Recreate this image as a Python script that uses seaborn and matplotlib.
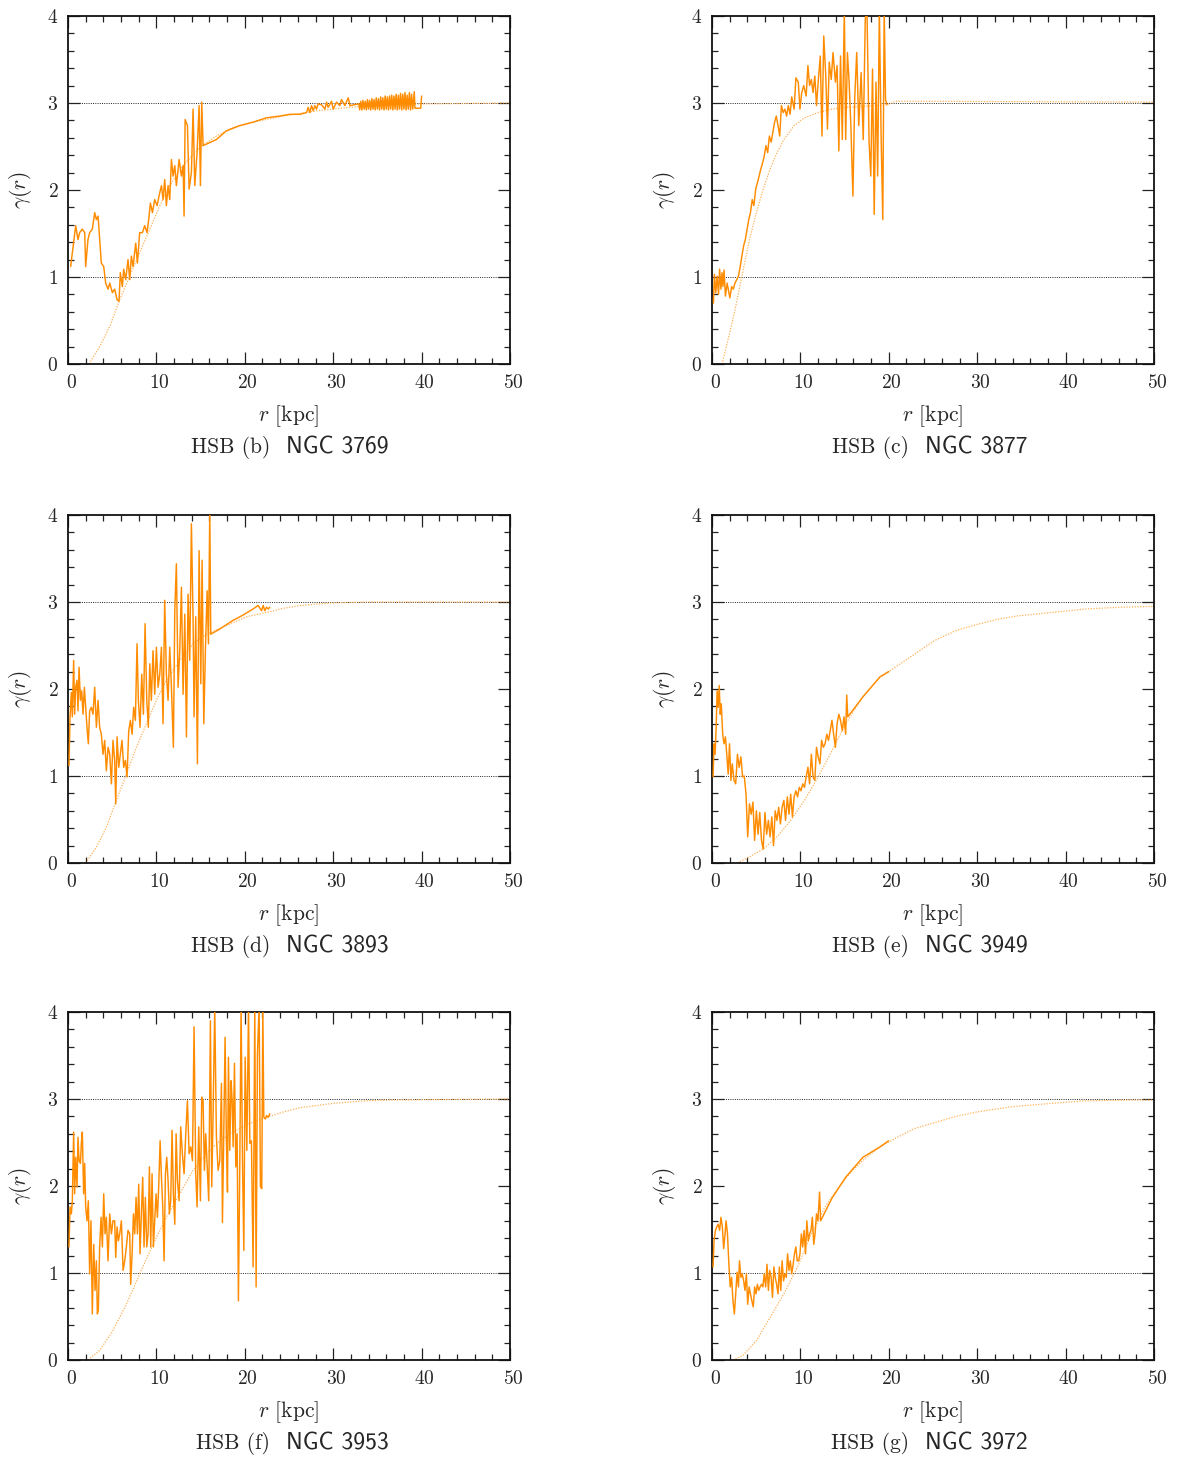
import numpy as np
import pandas as pd
import seaborn as sns
import matplotlib
matplotlib.use("Agg")
import matplotlib.pyplot as plt
from matplotlib.ticker import MultipleLocator
from matplotlib.transforms import ScaledTranslation

# ---------------- data ----------------
NAMES = ["NGC 3769", "NGC 3877", "NGC 3893", "NGC 3949", "NGC 3953", "NGC 3972"]
LETTERS = ["b", "c", "d", "e", "f", "g"]

# NGC 3769
r_b = [0.3, 0.87, 1.13, 1.32, 1.62, 1.89, 2.0, 2.26, 2.45, 2.75, 3.02, 3.21, 3.4, 3.58, 3.77, 4.04, 4.26, 4.53,
       4.72, 5.02, 5.28, 5.55, 5.77, 5.92, 6.15, 6.3, 6.53, 6.79, 6.98, 7.17, 7.36, 7.66, 7.85, 8.11, 8.42, 8.68,
       8.94, 9.13, 9.32, 9.55, 9.81, 10.08, 10.38, 10.57, 10.75, 10.94, 11.13, 11.32, 11.51, 11.7, 11.89, 12.08,
       12.26, 12.57, 12.83, 13.02, 13.13, 13.25, 13.51, 13.7, 13.96, 14.15, 14.34, 14.6, 14.83, 14.98, 15.13,
       15.28, 16.79, 17.92, 19.43, 20.94, 22.45, 23.96, 25.09, 26.23, 26.98, 27.17, 27.36, 27.55, 27.74, 27.92,
       28.11, 28.3, 28.68, 29.06, 29.25, 29.43, 29.81, 30.0, 30.38, 30.75, 30.94, 31.32, 31.7, 31.89, 32.9,
       33.0, 33.12, 33.25, 33.37, 33.5, 33.62, 33.75, 33.87, 34.0, 34.12, 34.25, 34.37, 34.5, 34.62, 34.75,
       34.87, 35.0, 35.12, 35.25, 35.37, 35.5, 35.62, 35.75, 35.87, 36.0, 36.12, 36.25, 36.37, 36.5, 36.62,
       36.75, 36.87, 37.0, 37.12, 37.25, 37.37, 37.5, 37.62, 37.75, 37.87, 38.0, 38.12, 38.25, 38.37, 38.5,
       38.62, 38.75, 38.87, 39.0, 39.17, 39.25, 39.9, 40.0]
g_b = [1.12, 1.59, 1.43, 1.51, 1.55, 1.51, 1.12, 1.43, 1.51, 1.55, 1.74, 1.66, 1.7, 1.43, 1.16, 1.12, 0.93, 0.86,
       0.93, 0.82, 0.86, 0.74, 0.72, 1.05, 0.89, 1.09, 0.97, 1.2, 0.97, 1.24, 1.12, 1.39, 1.16, 1.51, 1.51, 1.59,
       1.51, 1.66, 1.85, 1.74, 1.89, 1.82, 1.97, 2.05, 1.89, 2.12, 1.82, 2.05, 1.89, 2.35, 2.16, 2.28,
       2.05, 2.35, 2.16, 2.28, 1.7, 2.81, 2.74, 2.01, 2.2, 2.93, 2.05, 2.43, 2.97, 2.05, 3.01,
       2.51, 2.58, 2.68, 2.74, 2.78, 2.83, 2.85, 2.87, 2.87, 2.89, 2.95, 2.89, 2.97, 2.91, 2.97,
       2.93, 2.99, 2.98, 2.93, 3.01, 2.95, 3.02, 2.93, 3.01, 2.97, 3.04, 2.97, 3.06, 2.97, 2.99,
       2.92, 3.02, 2.92, 3.03, 2.93, 3.02, 2.92, 3.04, 2.93, 3.03, 2.92, 3.05, 2.93, 3.04, 2.92,
       3.06, 2.93, 3.05, 2.92, 3.07, 2.93, 3.06, 2.92, 3.08, 2.93, 3.07, 2.92, 3.08, 2.93, 3.09,
       2.92, 3.08, 2.93, 3.1, 2.92, 3.09, 2.93, 3.11, 2.92, 3.1, 2.93, 3.12, 2.92, 3.09, 2.93,
       3.12, 2.92, 3.1, 2.93, 3.13, 2.94, 2.94, 3.08]
rm_b = [2.38, 3.58, 4.72, 5.85, 6.98, 8.11, 9.25, 10.38, 11.51, 13.02, 14.91, 16.79, 18.68, 20.94, 24.34, 28.11,
        31.89, 35.66, 39.81, 41.32, 50.0]
gm_b = [0.0, 0.2, 0.43, 0.74, 1.01, 1.28, 1.55, 1.82, 2.05, 2.28, 2.49, 2.62, 2.72, 2.78, 2.85, 2.91,
        2.95, 2.98, 2.99, 2.99, 3.0]

# NGC 3877
r_c = [0.16, 0.27, 0.43, 0.58, 0.74, 0.86, 1.01, 1.13, 1.24, 1.36, 1.52, 1.71, 1.91, 2.02, 2.22, 2.41, 2.6, 2.8,
       2.99, 3.19, 3.38, 3.58, 3.77, 3.97, 4.16, 4.35, 4.55, 4.74, 4.94, 5.13, 5.33, 5.52, 5.72, 5.91, 6.1, 6.3,
       6.49, 6.69, 6.88, 7.08, 7.27, 7.47, 7.66, 7.85, 8.05, 8.24, 8.44, 8.63, 8.83, 9.02, 9.29, 9.49, 9.76,
       9.95, 10.15, 10.38, 10.65, 10.85, 11.04, 11.24, 11.43, 11.63, 11.82, 12.01, 12.25, 12.44, 12.64, 12.87,
       13.06, 13.26, 13.49, 13.69, 13.96, 14.15, 14.35, 14.54, 14.74, 14.97, 15.12, 15.32, 15.51, 15.71, 15.94,
       16.14, 16.37, 16.6, 16.87, 17.11, 17.34, 17.53, 17.77, 17.96, 18.16, 18.35, 18.55, 18.74, 18.93, 19.13,
       19.32, 19.48, 19.63, 19.79]
g_c = [0.7, 1.03, 0.82, 1.01, 0.8, 1.09, 0.86, 1.05, 0.89, 1.08, 0.78, 0.93, 0.82, 0.76, 0.89, 0.86, 0.93, 0.97,
       1.01, 1.12, 1.24, 1.36, 1.43, 1.55, 1.66, 1.74, 1.89, 1.82, 2.01, 2.08, 2.16, 2.24, 2.31, 2.39, 2.51, 2.43,
       2.62, 2.55, 2.66, 2.78, 2.85, 2.74, 2.62, 2.97, 2.89, 2.93, 2.85, 2.97, 2.87, 3.07, 2.93, 3.29, 3.24,
       2.93, 3.12, 3.2, 3.08, 3.43, 3.2, 3.27, 3.12, 3.31, 2.97, 3.24, 3.54, 2.62, 3.77, 3.31,
       2.7, 3.47, 3.27, 3.58, 3.24, 3.43, 2.45, 3.54, 2.58, 4.08, 2.58, 3.58, 3.24, 2.74, 1.93,
       3.04, 3.58, 2.74, 3.35, 2.58, 3.97, 4.08, 2.55, 2.16, 3.39, 1.72, 3.24, 2.16, 4.08, 2.62,
       1.66, 4.08, 3.04, 2.98]
rm_c = [1.13, 1.91, 2.68, 3.46, 4.24, 5.02, 5.79, 6.57, 7.35, 8.13, 9.29, 10.46, 12.01, 13.57, 15.12, 17.07,
        19.79, 20.76, 22.9, 50.0]
gm_c = [0.0, 0.32, 0.66, 1.05, 1.43, 1.74, 2.01, 2.24, 2.43, 2.58, 2.74, 2.83, 2.89, 2.93, 2.95, 2.96,
        2.98, 3.02, 3.02, 3.01]

# NGC 3893
r_d = [0.11, 0.23, 0.38, 0.49, 0.64, 0.75, 0.87, 1.02, 1.13, 1.25, 1.4, 1.55, 1.7, 1.85, 2.0, 2.15, 2.3, 2.45,
       2.64, 2.83, 3.02, 3.21, 3.4, 3.58, 3.77, 3.96, 4.15, 4.34, 4.53, 4.72, 4.91, 5.09, 5.28, 5.4, 5.55, 5.74,
       5.92, 6.11, 6.3, 6.49, 6.68, 6.87, 7.06, 7.25, 7.43, 7.62, 7.81, 7.96, 8.15, 8.34, 8.53, 8.72, 8.91, 9.09,
       9.25, 9.43, 9.62, 9.81, 10.0, 10.19, 10.38, 10.57, 10.75, 10.94, 11.13, 11.32, 11.51, 11.7, 11.92, 12.08,
       12.26, 12.45, 12.64, 12.83, 13.02, 13.21, 13.4, 13.58, 13.77, 13.96, 14.15, 14.26, 14.45, 14.64, 14.83,
       15.02, 15.17, 15.36, 15.55, 15.74, 15.89, 16.04, 16.15, 17.17, 18.68, 19.81, 20.94, 21.51, 21.89, 22.08,
       22.26, 22.45, 22.64, 22.83]
g_d = [1.12, 1.68, 1.96, 1.68, 2.33, 1.71, 2.02, 2.1, 1.75, 2.25, 1.87, 1.98, 1.71, 2.02, 1.79, 1.56, 1.37, 1.75,
       1.79, 1.71, 2.02, 1.56, 1.87, 1.56, 1.48, 1.25, 1.41, 1.06, 1.33, 1.25, 0.91, 1.41, 1.18, 0.68, 1.45, 1.1,
       1.25, 1.41, 1.1, 1.18, 0.99, 1.52, 1.64, 1.48, 1.79, 1.64, 2.52, 1.87, 1.56, 2.17, 1.71, 2.75, 1.87, 1.56,
       2.29, 1.87, 2.44, 1.94, 2.48, 2.02, 2.17, 2.48, 1.6, 3.02, 2.17, 1.87, 2.48, 2.02, 1.33, 2.9,
       3.44, 2.02, 2.44, 3.17, 1.94, 2.86, 1.45, 3.09, 2.33, 3.9, 2.79, 1.68, 2.83, 1.14, 3.59,
       2.06, 3.48, 1.6, 2.48, 3.13, 2.52, 4.05, 2.63, 2.69, 2.79, 2.85, 2.92, 2.96, 2.9, 2.96,
       2.9, 2.94, 2.92, 2.94]
rm_d = [2.0, 3.21, 4.34, 5.47, 6.6, 7.74, 8.87, 10.0, 11.13, 12.64, 14.15, 15.66, 17.92, 20.19, 22.45, 23.4,
        23.96, 26.23, 30.0, 33.77, 50.0]
gm_d = [0.0, 0.18, 0.41, 0.72, 1.02, 1.33, 1.6, 1.87, 2.1, 2.33, 2.52, 2.63, 2.73, 2.83, 2.88, 2.9,
        2.92, 2.96, 2.99, 3.0, 3.0]

# NGC 3949
r_e = [0.12, 0.23, 0.35, 0.47, 0.58, 0.7, 0.82, 0.93, 1.05, 1.21, 1.36, 1.52, 1.67, 1.83, 1.98, 2.14, 2.29, 2.49,
       2.68, 2.88, 3.07, 3.27, 3.46, 3.65, 3.85, 4.04, 4.24, 4.43, 4.63, 4.82, 5.02, 5.21, 5.4, 5.6, 5.79, 5.99,
       6.18, 6.38, 6.57, 6.77, 6.96, 7.15, 7.35, 7.54, 7.74, 7.93, 8.13, 8.32, 8.52, 8.71, 8.9, 9.1, 9.29, 9.49,
       9.68, 9.88, 10.07, 10.26, 10.46, 10.65, 10.85, 11.04, 11.24, 11.43, 11.63, 11.82, 12.01, 12.21, 12.4,
       12.6, 12.79, 12.99, 13.18, 13.37, 13.57, 13.76, 13.96, 14.15, 14.35, 14.54, 14.74, 14.93, 15.12, 15.24,
       15.36, 17.07, 19.01, 20.0]
g_e = [0.99, 1.37, 1.25, 1.56, 1.98, 1.79, 2.04, 1.71, 1.83, 1.48, 1.37, 1.45, 1.25, 1.02, 1.37, 0.95, 1.14, 0.95,
       0.91, 1.25, 1.1, 1.22, 0.99, 1.0, 0.79, 0.3, 0.68, 0.56, 0.7, 0.26, 0.6, 0.33, 0.58, 0.26, 0.16, 0.58,
       0.33, 0.49, 0.3, 0.53, 0.2, 0.6, 0.49, 0.64, 0.45, 0.64, 0.72, 0.49, 0.76, 0.56, 0.79, 0.53, 0.76, 0.83,
       0.76, 0.87, 0.83, 0.91, 0.87, 0.99, 1.1, 0.91, 1.25, 0.99, 0.95, 1.33, 1.22, 1.14, 1.41,
       1.33, 1.37, 1.48, 1.41, 1.52, 1.64, 1.48, 1.33, 1.6, 1.71, 1.64, 1.52, 1.68, 1.48, 1.93,
       1.68, 1.91, 2.14, 2.2]
rm_e = [2.88, 4.24, 5.79, 7.35, 8.9, 10.46, 12.01, 13.57, 15.12, 17.07, 19.01, 19.98, 22.9, 25.23, 27.57, 29.9,
        32.23, 34.56, 38.45, 42.34, 46.23, 50.0]
gm_e = [0.0, 0.07, 0.16, 0.3, 0.49, 0.72, 0.99, 1.29, 1.6, 1.91, 2.14, 2.2, 2.4, 2.56, 2.67, 2.74,
        2.8, 2.84, 2.88, 2.92, 2.94, 2.95]

# NGC 3953
r_f = [0.11, 0.23, 0.38, 0.49, 0.64, 0.75, 0.87, 1.02, 1.13, 1.25, 1.4, 1.51, 1.62, 1.77, 1.89, 2.0, 2.15, 2.3,
       2.45, 2.6, 2.75, 2.91, 3.06, 3.21, 3.32, 3.43, 3.58, 3.74, 3.89, 4.04, 4.19, 4.34, 4.53, 4.72, 4.91, 5.09,
       5.28, 5.4, 5.55, 5.7, 5.85, 6.04, 6.23, 6.42, 6.6, 6.79, 6.98, 7.09, 7.25, 7.4, 7.55, 7.7, 7.85, 8.0, 8.15,
       8.3, 8.45, 8.6, 8.75, 8.91, 9.06, 9.21, 9.36, 9.51, 9.66, 9.81, 9.96, 10.11, 10.26, 10.42, 10.57, 10.72,
       10.87, 11.02, 11.17, 11.32, 11.47, 11.62, 11.77, 11.92, 12.08, 12.23, 12.38, 12.57, 12.75, 12.94, 13.13,
       13.32, 13.51, 13.7, 13.89, 14.08, 14.26, 14.45, 14.6, 14.79, 14.98, 15.13, 15.28, 15.43, 15.58, 15.92,
       16.11, 16.26, 16.42, 16.6, 16.79, 16.98, 17.17, 17.36, 17.47, 17.62, 17.77, 17.92, 18.04, 18.15, 18.3,
       18.45, 18.57, 18.68, 18.83, 18.98, 19.13, 19.28, 19.43, 19.58, 19.74, 19.89, 20.04, 20.23, 20.42, 20.57,
       20.75, 20.94, 21.13, 21.28, 21.43, 21.62, 21.77, 21.92, 22.04, 22.15, 22.34, 22.45, 22.64, 22.83]
g_f = [1.3, 1.76, 1.68, 1.83, 2.62, 1.91, 2.33, 1.99, 2.56, 2.29, 2.26, 2.49, 2.62, 1.91, 2.26, 1.76, 1.6, 1.83,
       0.99, 1.6, 0.53, 1.33, 0.8, 1.14, 0.53, 0.57, 1.3, 1.64, 1.3, 1.91, 1.45, 1.64, 1.14, 1.68, 1.45, 1.6,
       1.6, 1.18, 1.53, 1.37, 1.45, 1.6, 1.03, 1.14, 1.3, 1.49, 1.45, 0.87, 1.22, 1.68, 1.45, 1.87, 1.45, 2.02, 1.22,
       1.68, 2.1, 1.3, 1.87, 1.3, 1.45, 2.22, 1.3, 2.14, 1.3, 1.6, 1.91, 1.64, 1.99, 2.52, 2.1, 1.76,
       1.14, 2.14, 2.33, 2.06, 1.68, 1.83, 2.64, 1.91, 1.56, 2.6, 2.06, 1.83, 2.68, 2.37, 2.14,
       2.6, 2.98, 2.37, 2.45, 2.29, 3.83, 2.14, 1.76, 2.68, 1.83, 3.02, 2.98, 2.18, 2.6, 1.83,
       3.9, 1.99, 2.87, 4.06, 2.56, 2.18, 2.29, 3.18, 1.58, 2.6, 3.71, 2.52, 1.93, 3.48, 2.41,
       3.21, 2.98, 2.45, 3.41, 2.22, 2.6, 0.68, 2.22, 4.06, 2.29, 1.26, 3.48, 2.41, 4.06, 2.49,
       2.52, 1.07, 4.06, 0.84, 3.52, 4.06, 1.99, 1.97, 4.06, 2.79, 2.77, 2.81, 2.79, 2.83]
rm_f = [2.26, 3.58, 5.09, 6.6, 8.11, 9.62, 11.13, 12.64, 14.15, 15.66, 17.17, 18.68, 20.57, 22.45, 24.34, 26.23,
        30.0, 33.77, 37.55, 50.0]
gm_f = [0.0, 0.11, 0.34, 0.64, 0.99, 1.33, 1.64, 1.91, 2.18, 2.37, 2.52, 2.62, 2.72, 2.79, 2.85, 2.9,
        2.95, 2.98, 2.99, 3.0]

# NGC 3972
r_g = [0.12, 0.23, 0.39, 0.54, 0.7, 0.86, 1.01, 1.17, 1.32, 1.48, 1.59, 1.75, 1.91, 2.06, 2.22, 2.37, 2.53, 2.68,
       2.84, 2.99, 3.11, 3.27, 3.42, 3.58, 3.73, 3.89, 4.04, 4.2, 4.35, 4.51, 4.67, 4.82, 4.98, 5.13, 5.29, 5.44,
       5.6, 5.75, 5.91, 6.07, 6.22, 6.38, 6.53, 6.69, 6.84, 7.0, 7.15, 7.31, 7.47, 7.62, 7.78, 7.93, 8.09, 8.24,
       8.4, 8.55, 8.71, 8.86, 9.02, 9.18, 9.33, 9.49, 9.64, 9.8, 9.95, 10.11, 10.26, 10.42, 10.58, 10.73, 10.89,
       11.04, 11.2, 11.35, 11.51, 11.66, 11.82, 11.98, 12.17, 12.29, 13.57, 15.12, 17.07, 19.01, 19.98]
g_g = [1.07, 1.37, 1.49, 1.53, 1.56, 1.49, 1.64, 1.53, 1.28, 1.45, 1.6, 1.45, 1.1, 0.84, 0.95, 0.68, 0.53, 0.76,
       1.01, 0.84, 1.14, 0.95, 0.99, 0.91, 0.8, 0.99, 0.64, 0.84, 0.76, 0.68, 0.61, 0.84, 0.76, 0.87, 0.8, 0.84,
       0.87, 0.84, 0.99, 0.84, 1.1, 0.8, 1.03, 0.95, 0.72, 1.07, 0.95, 0.87, 0.76, 1.07, 0.8, 1.14, 0.91, 0.99,
       0.95, 1.22, 1.03, 1.14, 0.99, 1.1, 1.22, 1.3, 1.14, 1.14, 1.22, 1.45, 1.3, 1.49, 1.22, 1.6, 1.37,
       1.45, 1.49, 1.64, 1.33, 1.45, 1.68, 1.6, 1.93, 1.6, 1.86, 2.1, 2.33, 2.45, 2.52]
rm_g = [2.37, 3.46, 5.02, 6.57, 8.13, 9.68, 11.24, 12.79, 14.35, 15.9, 17.46, 19.01, 20.96, 22.9, 25.23, 27.57,
        29.9, 33.79, 38.45, 42.34, 50.0]
gm_g = [0.0, 0.05, 0.22, 0.49, 0.76, 1.07, 1.45, 1.76, 1.99, 2.18, 2.33, 2.45, 2.56, 2.66, 2.73, 2.8,
        2.85, 2.91, 2.95, 2.98, 2.99]

REF_LEVELS = [1, 3]
X_TICKS = [0, 10, 20, 30, 40, 50]
Y_TICKS = [0, 1, 2, 3, 4]

DATA = [(r_b, g_b), (r_c, g_c), (r_d, g_d), (r_e, g_e), (r_f, g_f), (r_g, g_g)]
MODEL = [(rm_b, gm_b), (rm_c, gm_c), (rm_d, gm_d), (rm_e, gm_e), (rm_f, gm_f), (rm_g, gm_g)]

# ---------------- style ----------------
sns.set_style("ticks")
plt.rcParams["font.family"] = ["cmr10", "DejaVu Serif"]
plt.rcParams["mathtext.fontset"] = "cm"
plt.rcParams["axes.formatter.use_mathtext"] = True
plt.rcParams["axes.unicode_minus"] = False

W, H = 1178, 1457
fig = plt.figure(figsize=(W / 100, H / 100), dpi=100)

col_left = [68, 712]
row_top = [16, 515, 1012]
cap_shift = [0, -5]
ax_w, ax_h = 442, 348

ORANGE = "#ff8c00"
MODEL_C = "#ffa43a"

for i in range(6):
    row, col = divmod(i, 2)
    x0 = col_left[col]
    y0 = row_top[row]
    ax = fig.add_axes([x0 / W, 1 - (y0 + ax_h) / H, ax_w / W, ax_h / H])

    for lv in REF_LEVELS:
        ax.axhline(lv, color="#222222", lw=0.7, ls=(0, (1, 1.3)), zorder=1)

    rm, gm = MODEL[i]
    dfm = pd.DataFrame({"r": rm, "g": gm})
    sns.lineplot(data=dfm, x="r", y="g", ax=ax, sort=False, estimator=None,
                 color=MODEL_C, lw=0.9, ls=(0, (1, 1.2)), alpha=0.85, zorder=2)

    r, g = DATA[i]
    dfd = pd.DataFrame({"r": r, "g": g})
    sns.lineplot(data=dfd, x="r", y="g", ax=ax, sort=False, estimator=None,
                 color=ORANGE, lw=1.05, zorder=3)

    ax.set_xlim(0, 50)
    ax.set_ylim(0, 4)
    ax.set_xticks(X_TICKS)
    ax.set_yticks(Y_TICKS)
    ax.xaxis.set_minor_locator(MultipleLocator(2))
    ax.yaxis.set_minor_locator(MultipleLocator(0.2))
    ax.tick_params(which="both", direction="in", top=True, right=True, width=0.9, color="#222222")
    ax.tick_params(which="major", length=8.5, labelsize=14, pad=7)
    ax.tick_params(which="minor", length=4.3)
    shift = ScaledTranslation(3 / 100, 0, fig.dpi_scale_trans)
    for lab in ax.get_xticklabels():
        lab.set_transform(lab.get_transform() + shift)
    for sp in ax.spines.values():
        sp.set_linewidth(1.3)
        sp.set_color("#111111")
    ax.set_xlabel("")
    ax.set_ylabel("")

    ax.text(0.5, -52 / ax_h, r"$r$ [kpc]", transform=ax.transAxes, ha="center", va="center", fontsize=15.5)
    ax.text(-47 / ax_w, 0.5, r"$\gamma(r)$", transform=ax.transAxes, ha="center", va="center",
            rotation=90, fontsize=15.5)
    cs = cap_shift[col]
    ax.text(0.5 + (cs - 19) / ax_w, -89 / ax_h, f"HSB ({LETTERS[i]})", transform=ax.transAxes,
            ha="right", va="baseline", fontsize=15.5)
    ax.text(0.5 + (cs - 3) / ax_w, -89 / ax_h, NAMES[i], transform=ax.transAxes,
            ha="left", va="baseline", fontsize=17, family=["cmss10", "DejaVu Sans"])

fig.savefig("out.png", dpi=100)
